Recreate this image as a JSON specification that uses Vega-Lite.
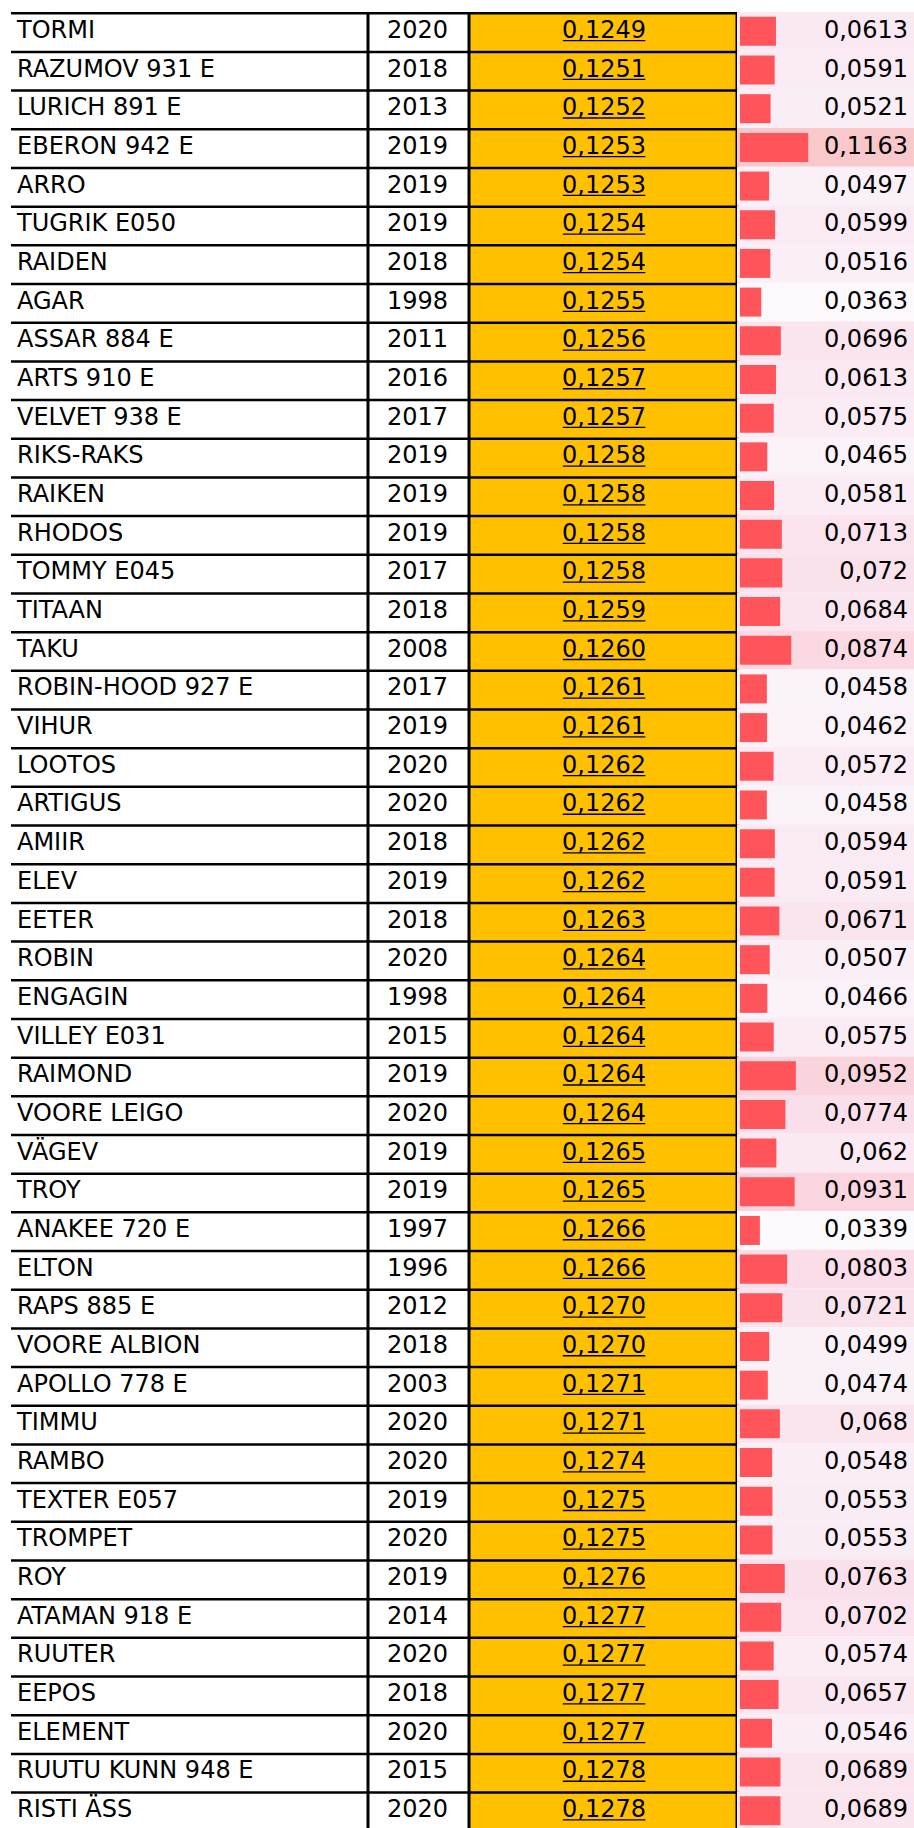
{
  "$schema": "https://vega.github.io/schema/vega-lite/v6.json",
  "padding": {"left": 9, "top": 10, "right": 0, "bottom": 0},
  "autosize": {"type": "pad"},
  "background": "white",
  "spacing": 0,
  "bounds": "flush",
  "config": {
    "view": {"stroke": null},
    "locale": {"number": {"decimal": ",", "thousands": " ", "grouping": [3], "currency": ["", ""]}},
    "text": {"font": "DejaVu Sans", "fontSize": 24, "color": "black", "dy": -0.5}
  },
  "data": {"values": [
    {"n": "TORMI", "y": "2020", "a": 0.1249, "b": 0.0613},
    {"n": "RAZUMOV 931 E", "y": "2018", "a": 0.1251, "b": 0.0591},
    {"n": "LURICH 891 E", "y": "2013", "a": 0.1252, "b": 0.0521},
    {"n": "EBERON 942 E", "y": "2019", "a": 0.1253, "b": 0.1163},
    {"n": "ARRO", "y": "2019", "a": 0.1253, "b": 0.0497},
    {"n": "TUGRIK E050", "y": "2019", "a": 0.1254, "b": 0.0599},
    {"n": "RAIDEN", "y": "2018", "a": 0.1254, "b": 0.0516},
    {"n": "AGAR", "y": "1998", "a": 0.1255, "b": 0.0363},
    {"n": "ASSAR 884 E", "y": "2011", "a": 0.1256, "b": 0.0696},
    {"n": "ARTS 910 E", "y": "2016", "a": 0.1257, "b": 0.0613},
    {"n": "VELVET 938 E", "y": "2017", "a": 0.1257, "b": 0.0575},
    {"n": "RIKS-RAKS", "y": "2019", "a": 0.1258, "b": 0.0465},
    {"n": "RAIKEN", "y": "2019", "a": 0.1258, "b": 0.0581},
    {"n": "RHODOS", "y": "2019", "a": 0.1258, "b": 0.0713},
    {"n": "TOMMY E045", "y": "2017", "a": 0.1258, "b": 0.072},
    {"n": "TITAAN", "y": "2018", "a": 0.1259, "b": 0.0684},
    {"n": "TAKU", "y": "2008", "a": 0.1260, "b": 0.0874},
    {"n": "ROBIN-HOOD 927 E", "y": "2017", "a": 0.1261, "b": 0.0458},
    {"n": "VIHUR", "y": "2019", "a": 0.1261, "b": 0.0462},
    {"n": "LOOTOS", "y": "2020", "a": 0.1262, "b": 0.0572},
    {"n": "ARTIGUS", "y": "2020", "a": 0.1262, "b": 0.0458},
    {"n": "AMIIR", "y": "2018", "a": 0.1262, "b": 0.0594},
    {"n": "ELEV", "y": "2019", "a": 0.1262, "b": 0.0591},
    {"n": "EETER", "y": "2018", "a": 0.1263, "b": 0.0671},
    {"n": "ROBIN", "y": "2020", "a": 0.1264, "b": 0.0507},
    {"n": "ENGAGIN", "y": "1998", "a": 0.1264, "b": 0.0466},
    {"n": "VILLEY E031", "y": "2015", "a": 0.1264, "b": 0.0575},
    {"n": "RAIMOND", "y": "2019", "a": 0.1264, "b": 0.0952},
    {"n": "VOORE LEIGO", "y": "2020", "a": 0.1264, "b": 0.0774},
    {"n": "VÄGEV", "y": "2019", "a": 0.1265, "b": 0.062},
    {"n": "TROY", "y": "2019", "a": 0.1265, "b": 0.0931},
    {"n": "ANAKEE 720 E", "y": "1997", "a": 0.1266, "b": 0.0339},
    {"n": "ELTON", "y": "1996", "a": 0.1266, "b": 0.0803},
    {"n": "RAPS 885 E", "y": "2012", "a": 0.1270, "b": 0.0721},
    {"n": "VOORE ALBION", "y": "2018", "a": 0.1270, "b": 0.0499},
    {"n": "APOLLO 778 E", "y": "2003", "a": 0.1271, "b": 0.0474},
    {"n": "TIMMU", "y": "2020", "a": 0.1271, "b": 0.068},
    {"n": "RAMBO", "y": "2020", "a": 0.1274, "b": 0.0548},
    {"n": "TEXTER E057", "y": "2019", "a": 0.1275, "b": 0.0553},
    {"n": "TROMPET", "y": "2020", "a": 0.1275, "b": 0.0553},
    {"n": "ROY", "y": "2019", "a": 0.1276, "b": 0.0763},
    {"n": "ATAMAN 918 E", "y": "2014", "a": 0.1277, "b": 0.0702},
    {"n": "RUUTER", "y": "2020", "a": 0.1277, "b": 0.0574},
    {"n": "EEPOS", "y": "2018", "a": 0.1277, "b": 0.0657},
    {"n": "ELEMENT", "y": "2020", "a": 0.1277, "b": 0.0546},
    {"n": "RUUTU KUNN 948 E", "y": "2015", "a": 0.1278, "b": 0.0689},
    {"n": "RISTI ÄSS", "y": "2020", "a": 0.1278, "b": 0.0689}
  ]},
  "hconcat": [
    {
      "width": 357, "height": 1818,
      "layer": [
        {
          "mark": {"type": "rule", "stroke": "black", "strokeWidth": 2.5, "yOffset": 1.25},
          "encoding": {
            "y": {"field": "n", "type": "nominal", "sort": null, "bandPosition": 0, "scale": {"paddingInner": 0, "paddingOuter": 0}, "axis": null},
            "x": {"datum": 0, "type": "quantitative", "scale": {"domain": [0, 1], "nice": false, "zero": false}, "axis": null},
            "x2": {"datum": 1}
          }
        },
        {
          "mark": {"type": "text", "align": "left", "baseline": "middle"},
          "encoding": {
            "y": {"field": "n", "type": "nominal", "sort": null, "axis": null},
            "x": {"datum": 0.0168, "type": "quantitative"},
            "text": {"field": "n", "type": "nominal"}
          }
        }
      ]
    },
    {
      "width": 101, "height": 1818,
      "layer": [
        {
          "mark": {"type": "rule", "stroke": "black", "strokeWidth": 2.5, "yOffset": 1.25},
          "encoding": {
            "y": {"field": "n", "type": "nominal", "sort": null, "bandPosition": 0, "scale": {"paddingInner": 0, "paddingOuter": 0}, "axis": null},
            "x": {"datum": 0, "type": "quantitative", "scale": {"domain": [0, 1], "nice": false, "zero": false}, "axis": null},
            "x2": {"datum": 1}
          }
        },
        {
          "mark": {"type": "text", "align": "center", "baseline": "middle"},
          "encoding": {
            "y": {"field": "n", "type": "nominal", "sort": null, "axis": null},
            "x": {"datum": 0.49, "type": "quantitative"},
            "text": {"field": "y", "type": "nominal"}
          }
        },
        {
          "data": {"values": [{"edge": 0}]},
          "mark": {"type": "rule", "stroke": "black", "strokeWidth": 3},
          "encoding": {"x": {"datum": 0, "type": "quantitative"}}
        }
      ]
    },
    {
      "width": 268, "height": 1818,
      "layer": [
        {
          "mark": {"type": "rect", "fill": "#FFC000"},
          "encoding": {
            "y": {"field": "n", "type": "nominal", "sort": null, "scale": {"paddingInner": 0, "paddingOuter": 0}, "axis": null},
            "x": {"datum": 0, "type": "quantitative", "scale": {"domain": [0, 1], "nice": false, "zero": false}, "axis": null},
            "x2": {"datum": 1}
          }
        },
        {
          "mark": {"type": "rule", "stroke": "black", "strokeWidth": 2.5, "yOffset": 1.25},
          "encoding": {
            "y": {"field": "n", "type": "nominal", "sort": null, "bandPosition": 0, "axis": null},
            "x": {"datum": 0, "type": "quantitative"},
            "x2": {"datum": 1}
          }
        },
        {
          "data": {"values": [{"edge": 0}, {"edge": 1}]},
          "mark": {"type": "rule", "stroke": "black", "strokeWidth": 3},
          "encoding": {"x": {"field": "edge", "type": "quantitative"}}
        },
        {
          "mark": {"type": "text", "align": "center", "baseline": "middle"},
          "encoding": {
            "y": {"field": "n", "type": "nominal", "sort": null, "axis": null},
            "x": {"datum": 0.504, "type": "quantitative"},
            "text": {"field": "a", "type": "quantitative", "format": ".4f"}
          }
        },
        {
          "mark": {"type": "rule", "stroke": "black", "strokeWidth": 1.3},
          "encoding": {
            "y": {"field": "n", "type": "nominal", "sort": null, "bandPosition": 0.74, "axis": null},
            "x": {"datum": 0.35, "type": "quantitative"},
            "x2": {"datum": 0.658}
          }
        }
      ]
    },
    {
      "width": 179, "height": 1818,
      "layer": [
        {
          "mark": {"type": "rect"},
          "encoding": {
            "y": {"field": "n", "type": "nominal", "sort": null, "scale": {"paddingInner": 0, "paddingOuter": 0}, "axis": null},
            "x": {"datum": -0.0051, "type": "quantitative", "scale": {"domain": [-0.0051, 0.2999], "nice": false, "zero": false}, "axis": null},
            "x2": {"datum": 0.2999},
            "fill": {"field": "b", "type": "quantitative", "scale": {"domain": [0.0339, 0.1163], "range": ["#FCF9FC", "#F9C8CB"]}, "legend": null}
          }
        },
        {
          "mark": {"type": "bar", "fill": "#FF555A", "height": {"band": 0.75}},
          "encoding": {
            "y": {"field": "n", "type": "nominal", "sort": null, "axis": null},
            "x": {"field": "b", "type": "quantitative"},
            "x2": {"datum": 0}
          }
        },
        {
          "mark": {"type": "text", "align": "right", "baseline": "middle"},
          "encoding": {
            "y": {"field": "n", "type": "nominal", "sort": null, "axis": null},
            "x": {"datum": 0.2862, "type": "quantitative"},
            "text": {"field": "b", "type": "quantitative", "format": ".4~f"}
          }
        }
      ]
    }
  ]
}
